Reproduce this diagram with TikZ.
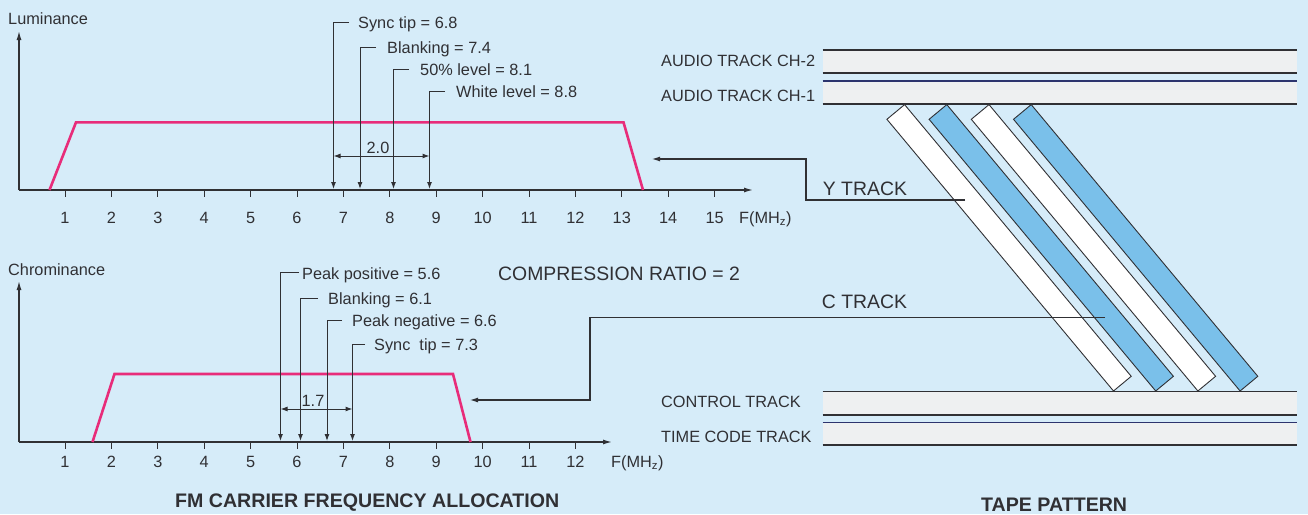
\documentclass[tikz,border=0pt]{standalone}
\usepackage{fontspec}
\setmainfont{Liberation Sans}
\usetikzlibrary{arrows.meta}
\definecolor{bg}{RGB}{214,236,249}
\definecolor{ink}{RGB}{48,48,52}
\definecolor{pinkline}{RGB}{232,44,122}
\definecolor{tapefill}{RGB}{238,240,241}
\definecolor{bluestrip}{RGB}{122,192,234}
\definecolor{navy}{RGB}{44,52,110}
\tikzset{
 lab/.style={font=\fontsize{16.3}{19}\selectfont, text=ink, inner sep=0pt},
 biglab/.style={font=\fontsize{19.4}{22}\selectfont, text=ink, inner sep=0pt},
 caplab/.style={font=\fontsize{19.6}{22}\selectfont\bfseries, text=ink, inner sep=0pt},
 axisline/.style={draw=ink, line width=1.3pt, -{Latex[length=9pt,width=5pt]}},
 tickmark/.style={draw=ink, line width=1pt},
 curve/.style={draw=pinkline, line width=2.6pt, line join=miter},
 pointer/.style={draw=ink, line width=1pt, -{Latex[length=7pt,width=5pt]}},
 dimline/.style={draw=ink, line width=1pt, {Latex[length=7pt,width=5pt]}-{Latex[length=7pt,width=5pt]}},
 conn/.style={draw=ink, line width=1.1pt, -{Latex[length=8pt,width=5pt]}},
 tapeband/.style={fill=tapefill, draw=none},
 tapeedge/.style={draw=ink, line width=1.4pt},
 stripw/.style={fill=white, draw=ink, line width=0.9pt, line join=miter},
 stripb/.style={fill=bluestrip, draw=ink, line width=0.9pt, line join=miter},
}
\begin{document}
\begin{tikzpicture}[x=1pt,y=-1pt]
\useasboundingbox (0,0) rectangle (1308,514);
\fill[bg] (0,0) rectangle (1308,514);

% ================= Upper graph (Luminance) =================
\coordinate (uo) at (19,190);
\coordinate (uy) at (19,31);
\coordinate (ux) at (753,190);
\draw[axisline] (uo) -- (uy);
\draw[axisline] (uo) -- (ux);
\node[lab, anchor=base west] (ulum) at (8,24) {Luminance};
\foreach \f in {1,...,15} {
  \draw[tickmark] ({18.6+46.4*\f},190) -- ++(0,6.5);
  \node[lab, anchor=base] (un\f) at ({18.6+46.4*\f},223) {\f};
}
\node[lab, anchor=base west] (uf) at (739,223) {F(MH\textsubscript{z})};

\coordinate (up1) at (49.5,190);
\coordinate (up2) at (76,122.3);
\coordinate (up3) at (623.5,122.3);
\coordinate (up4) at (643,190);
\draw[curve] (up1) -- (up2) -- (up3) -- (up4);

% pointers
\coordinate (us1) at (349,22);  \coordinate (uc1) at (333.5,22);  \coordinate (ua1) at (333.5,189);
\coordinate (us2) at (376,47);  \coordinate (uc2) at (360,47);    \coordinate (ua2) at (360,189);
\coordinate (us3) at (409,69);  \coordinate (uc3) at (393.5,69);  \coordinate (ua3) at (393.5,189);
\coordinate (us4) at (445,91);  \coordinate (uc4) at (429.5,91);  \coordinate (ua4) at (429.5,189);
\draw[pointer] (us1) -- (uc1) -- (ua1);
\draw[pointer] (us2) -- (uc2) -- (ua2);
\draw[pointer] (us3) -- (uc3) -- (ua3);
\draw[pointer] (us4) -- (uc4) -- (ua4);
\node[lab, anchor=base west] (ut1) at (358,28) {Sync tip = 6.8};
\node[lab, anchor=base west] (ut2) at (387,53) {Blanking = 7.4};
\node[lab, anchor=base west] (ut3) at (420,75.5) {50\% level = 8.1};
\node[lab, anchor=base west] (ut4) at (456,97) {White level = 8.8};
\coordinate (ud1) at (333.5,156);
\coordinate (ud2) at (429.5,156);
\draw[dimline] (ud1) -- (ud2);
\node[lab, anchor=base] (udt) at (378,153) {2.0};

% ================= Lower graph (Chrominance) =================
\coordinate (lo) at (19,442);
\coordinate (ly) at (19,281);
\coordinate (lx) at (612,442);
\draw[axisline] (lo) -- (ly);
\draw[axisline] (lo) -- (lx);
\node[lab, anchor=base west] (lchr) at (8,275) {Chrominance};
\foreach \f in {1,...,12} {
  \draw[tickmark] ({18.6+46.4*\f},442) -- ++(0,6.5);
  \node[lab, anchor=base] (ln\f) at ({18.6+46.4*\f},467) {\f};
}
\node[lab, anchor=base west] (lf) at (611,467) {F(MH\textsubscript{z})};

\coordinate (lp1) at (92.5,442);
\coordinate (lp2) at (114.5,374);
\coordinate (lp3) at (453,374);
\coordinate (lp4) at (470.5,442);
\draw[curve] (lp1) -- (lp2) -- (lp3) -- (lp4);

\coordinate (ls1) at (299,272.7); \coordinate (lc1) at (280.5,272.7); \coordinate (la1) at (280.5,441);
\coordinate (ls2) at (318,298);   \coordinate (lc2) at (300.5,298);   \coordinate (la2) at (300.5,441);
\coordinate (ls3) at (342,320);   \coordinate (lc3) at (327,320);     \coordinate (la3) at (327,441);
\coordinate (ls4) at (365,344);   \coordinate (lc4) at (352.5,344);   \coordinate (la4) at (352.5,441);
\draw[pointer] (ls1) -- (lc1) -- (la1);
\draw[pointer] (ls2) -- (lc2) -- (la2);
\draw[pointer] (ls3) -- (lc3) -- (la3);
\draw[pointer] (ls4) -- (lc4) -- (la4);
\node[lab, anchor=base west] (lt1) at (302,279) {Peak positive = 5.6};
\node[lab, anchor=base west] (lt2) at (328,304) {Blanking = 6.1};
\node[lab, anchor=base west] (lt3) at (352,326) {Peak negative = 6.6};
\node[lab, anchor=base west] (lt4) at (374,350) {Sync\ \ tip = 7.3};
\coordinate (ld1) at (280.5,409);
\coordinate (ld2) at (352.5,409);
\draw[dimline] (ld1) -- (ld2);
\node[lab, anchor=base] (ldt) at (313,406.5) {1.7};

\node[biglab, anchor=base west] (comp) at (498,280) {COMPRESSION RATIO = 2};

% ================= Tape pattern =================
\fill[tapeband] (822.7,50) rectangle (1296.7,73);
\fill[tapeband] (822.7,81) rectangle (1296.7,104);
\fill[tapeband] (822.7,391.5) rectangle (1296.7,415);
\fill[tapeband] (822.7,422.7) rectangle (1296.7,445);
\draw[tapeedge] (822.7,50) -- (1296.7,50);
\draw[tapeedge] (822.7,73) -- (1296.7,73);
\draw[tapeedge, draw=navy] (822.7,81) -- (1296.7,81);
\draw[tapeedge] (822.7,104) -- (1296.7,104);
\draw[tapeedge] (822.7,391.5) -- (1296.7,391.5);
\draw[tapeedge] (822.7,415) -- (1296.7,415);
\draw[tapeedge, draw=navy] (822.7,422.7) -- (1296.7,422.7);
\draw[tapeedge] (822.7,445) -- (1296.7,445);

\node[lab, anchor=base west] (ach2) at (661,66) {AUDIO TRACK CH-2};
\node[lab, anchor=base west] (ach1) at (661,101.7) {AUDIO TRACK CH-1};
\node[lab, anchor=base west] (ctl) at (661,407) {CONTROL TRACK};
\node[lab, anchor=base west] (tct) at (661,442.7) {TIME CODE TRACK};

% diagonal helical tracks
\draw[stripw] (1113.5,391) -- ++(-226.6,-271.7) -- ++(17.7,-14.7) -- ++(226.6,271.7) -- cycle;
\draw[stripb] (1155.7,391) -- ++(-226.6,-271.7) -- ++(17.7,-14.7) -- ++(226.6,271.7) -- cycle;
\draw[stripw] (1197.9,391) -- ++(-226.6,-271.7) -- ++(17.7,-14.7) -- ++(226.6,271.7) -- cycle;
\draw[stripb] (1240.1,391) -- ++(-226.6,-271.7) -- ++(17.7,-14.7) -- ++(226.6,271.7) -- cycle;

% Y track connector
\coordinate (ys) at (965,200);
\coordinate (yb1) at (806,200);
\coordinate (yb2) at (806,159);
\coordinate (ye) at (652,159);
\draw[conn] (ys) -- (yb1) -- (yb2) -- (ye);
\node[biglab, anchor=base west] (ytr) at (822.7,195.7) {Y TRACK};

% C track connector
\coordinate (cs) at (1105,317.5);
\coordinate (cb1) at (590,317.5);
\coordinate (cb2) at (590,400);
\coordinate (ce) at (470,400);
\draw[conn] (cs) -- (cb1) -- (cb2) -- (ce);
\node[biglab, anchor=base west] (ctr) at (821.7,308.3) {C TRACK};

% captions
\node[caplab, anchor=base west] (cap1) at (175,507.5) {FM CARRIER FREQUENCY ALLOCATION};
\node[caplab, anchor=base west] (cap2) at (981,511) {TAPE PATTERN};
\end{tikzpicture}
\end{document}
